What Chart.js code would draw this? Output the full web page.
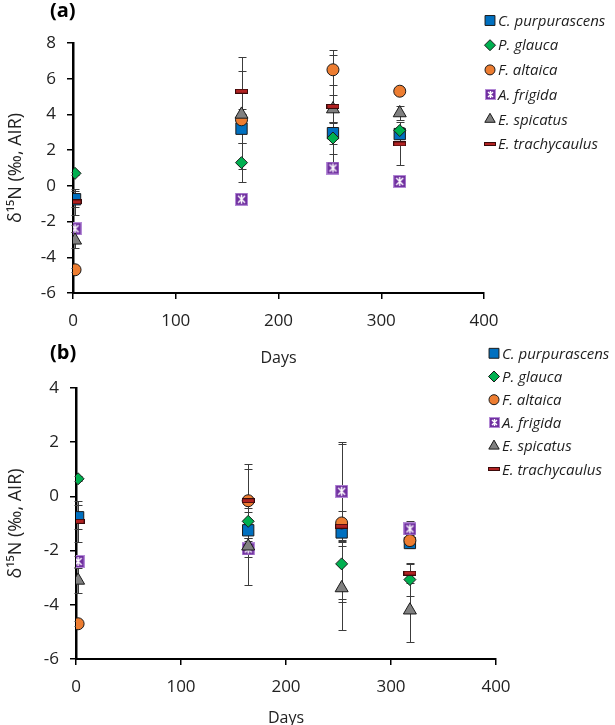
<!DOCTYPE html>
<html>
<head>
<meta charset="utf-8">
<script src="https://cdn.jsdelivr.net/npm/chart.js@4.4.1/dist/chart.umd.min.js"></script>
<style>
  html, body { margin: 0; padding: 0; background: #fff; }
  body { width: 615px; height: 725px; position: relative; overflow: hidden; }
  canvas { position: absolute; left: 0; }
  .tag { position: absolute; left: 50px; font: bold 20px "Open Sans", sans-serif; color: #000; }
</style>
</head>
<body>
<canvas id="chartA" width="615" height="372" style="top:0"></canvas>
<canvas id="chartB" width="615" height="392" style="top:340px"></canvas>
<div class="tag" style="top:-4px">(a)</div>
<div class="tag" style="top:338px">(b)</div>
<script>
// sampling days
const days = [2, 164, 253, 318];

const species = ['C. purpurascens', 'P. glauca', 'F. altaica', 'A. frigida', 'E. spicatus', 'E. trachycaulus'];

// panel (a) values and error half-widths
const purpA = [-0.75, 3.2, 2.95, 2.9];
const purpAErr = [0.45, 0.8, 0.6, 0.3];
const glaucaA = [0.7, 1.3, 2.68, 3.1];
const glaucaAErr = [0.1, 1.1, 0.92, 0.2];
const altaicaA = [-4.7, 3.7, 6.5, 5.3];
const altaicaAErr = [0.1, 2.75, 0.85, 0.15];
const frigidaA = [-2.4, -0.75, 1.0, 0.25];
const frigidaAErr = [0.2, 0.15, 0.15, 0.1];
const spicatusA = [-3.05, 4.0, 4.3, 4.08];
const spicatusAErr = [0.45, 0.3, 0.8, 0.37];
const trachyA = [-0.9, 5.3, 4.45, 2.35];
const trachyAErr = [0.75, 1.9, 3.15, 1.2];

// panel (b) values and error half-widths
const purpB = [-0.77, -1.25, -1.33, -1.72];
const purpBErr = [0.45, 0.3, 0.35, 0.2];
const glaucaB = [0.65, -0.92, -2.49, -3.07];
const glaucaBErr = [0.1, 0.35, 1.3, 0.62];
const altaicaB = [-4.7, -0.16, -0.98, -1.63];
const altaicaBErr = [0.1, 1.37, 2.9, 0.2];
const frigidaB = [-2.4, -1.94, 0.19, -1.2];
const frigidaBErr = [0.2, 0.3, 1.8, 0.3];
const spicatusB = [-3.1, -1.84, -3.38, -4.2];
const spicatusBErr = [0.45, 1.42, 1.55, 1.18];
const trachyB = [-0.92, -0.16, -1.1, -2.83];
const trachyBErr = [0.75, 1.17, 0.55, 0.35];

const FONT = '"Open Sans", "DejaVu Sans", sans-serif';

function frigidaIcon(sz) {
    const c = document.createElement('canvas');
    c.width = c.height = sz;
    const g = c.getContext('2d');
    g.fillStyle = '#7030A0';
    g.fillRect(0, 0, sz, sz);
    g.strokeStyle = '#b48ad6';
    g.lineWidth = 1;
    g.strokeRect(0.5, 0.5, sz - 1, sz - 1);
    g.strokeStyle = '#fff';
    g.lineWidth = 1.4;
    g.beginPath();
    g.moveTo(3, 3); g.lineTo(sz - 3, sz - 3);
    g.moveTo(sz - 3, 3); g.lineTo(3, sz - 3);
    g.moveTo(sz / 2, 2); g.lineTo(sz / 2, sz - 2);
    g.stroke();
    return c;
}

function dashIcon(w, h) {
    const c = document.createElement('canvas');
    c.width = w; c.height = h;
    const g = c.getContext('2d');
    g.fillStyle = '#3a0a0a';
    g.fillRect(0, 0, w, h);
    g.fillStyle = '#B22222';
    g.fillRect(1, 1, w - 2, h - 2);
    return c;
}

const markers = [
    { pointStyle: 'rect', pointRadius: 8, legendRadius: 7, color: '#0070C0' },
    { pointStyle: 'rectRot', pointRadius: 6, legendRadius: 5.5, color: '#00B050' },
    { pointStyle: 'circle', pointRadius: 6, legendRadius: 5, color: '#ED7D31' },
    { pointStyle: frigidaIcon(13), legendIcon: frigidaIcon(11), pointRadius: 7, color: '#7030A0' },
    { pointStyle: 'triangle', pointRadius: 7.5, legendRadius: 6, color: '#808080' },
    { pointStyle: dashIcon(13, 5), legendIcon: dashIcon(12, 4), pointRadius: 7, color: '#B22222' }
];

const errorBars = {
    id: 'errorBars',
    beforeDatasetsDraw(chart, args, opts) {
        const { ctx, scales: { x, y } } = chart;
        ctx.save();
        ctx.strokeStyle = '#3c3c3c';
        ctx.lineWidth = 1;
        chart.data.datasets.forEach((ds, k) => {
            const errs = opts.errors[k];
            ds.data.forEach((p, i) => {
                const e = errs[i];
                if (!e) {
                    return;
                }
                const px = Math.round(x.getPixelForValue(p.x)) + 0.5;
                const top = Math.round(y.getPixelForValue(p.y + e)) + 0.5;
                const bot = Math.round(y.getPixelForValue(p.y - e)) + 0.5;
                ctx.beginPath();
                ctx.moveTo(px, top); ctx.lineTo(px, bot);
                ctx.moveTo(px - 4, top); ctx.lineTo(px + 4, top);
                ctx.moveTo(px - 4, bot); ctx.lineTo(px + 4, bot);
                ctx.stroke();
            });
        });
        ctx.restore();
    }
};

const sideLegend = {
    id: 'sideLegend',
    afterDraw(chart, args, opts) {
        const ctx = chart.ctx;
        ctx.save();
        ctx.font = 'italic 15px ' + FONT;
        ctx.textBaseline = 'middle';
        chart.data.datasets.forEach((ds, i) => {
            const y = opts.top + i * opts.rowGap;
            const m = markers[i];
            if (m.legendIcon) {
                const ic = m.legendIcon;
                ctx.drawImage(ic, Math.round(opts.markerX - ic.width / 2), Math.round(y - ic.height / 2));
            } else {
                ctx.fillStyle = m.color;
                ctx.strokeStyle = '#1a1a1a';
                ctx.lineWidth = 1;
                Chart.helpers.drawPoint(ctx, {
                    pointStyle: m.pointStyle,
                    radius: m.legendRadius,
                    rotation: 0,
                    borderWidth: 1
                }, opts.markerX, y);
            }
            ctx.fillStyle = '#1e1e1e';
            ctx.fillText(ds.label, opts.textX, y + 1);
        });
        ctx.restore();
    }
};

function makeDatasets(series) {
    return series.map((vals, i) => ({
        label: species[i],
        data: days.map((d, j) => ({ x: d, y: vals[j] })),
        showLine: false,
        order: series.length - i,
        pointStyle: markers[i].pointStyle,
        pointRadius: markers[i].pointRadius,
        pointBackgroundColor: markers[i].color,
        pointBorderColor: '#1a1a1a',
        pointBorderWidth: 1
    }));
}

function buildChart(id, series, errors, layout) {
    return new Chart(document.getElementById(id), {
        type: 'scatter',
        data: { datasets: makeDatasets(series) },
        plugins: [errorBars, sideLegend],
        options: {
            responsive: false,
            animation: false,
            events: [],
            layout: { padding: { top: layout.top, right: layout.right, left: 0, bottom: 0 } },
            plugins: {
                legend: { display: false },
                tooltip: { enabled: false },
                errorBars: { errors },
                sideLegend: layout.legend
            },
            scales: {
                x: {
                    type: 'linear',
                    min: 0,
                    max: 400,
                    ticks: { stepSize: 100, color: '#222', font: { size: 17, family: FONT }, padding: layout.xTickPad },
                    grid: { drawOnChartArea: false, drawTicks: true, tickLength: 6, color: '#000', lineWidth: 1.5 },
                    border: { color: '#000', width: 2 },
                    title: { display: true, text: 'Days', color: '#222', font: { size: 16, family: FONT }, padding: { top: 4, bottom: 4 } },
                    afterFit: (s) => { s.height = layout.xHeight; }
                },
                y: {
                    min: layout.yMin,
                    max: layout.yMax,
                    ticks: { stepSize: 2, color: '#222', font: { size: 17, family: FONT }, padding: 11 },
                    grid: { drawOnChartArea: false, drawTicks: true, tickLength: 6, color: '#000', lineWidth: 1.5 },
                    border: { color: '#000', width: 2.5 },
                    title: { display: true, text: 'δ¹⁵N (‰, AIR)', color: '#222', font: { size: 18, family: FONT }, padding: { top: 5, bottom: 0 } },
                    afterFit: (s) => { s.width = layout.yWidth; }
                }
            }
        }
    });
}

buildChart('chartA',
    [purpA, glaucaA, altaicaA, frigidaA, spicatusA, trachyA],
    [purpAErr, glaucaAErr, altaicaAErr, frigidaAErr, spicatusAErr, trachyAErr],
    {
        top: 43, right: 131, xHeight: 79, yWidth: 73, yMin: -6, yMax: 8, xTickPad: 12,
        legend: { markerX: 490, textX: 498, top: 20.5, rowGap: 24.7 }
    });

buildChart('chartB',
    [purpB, glaucaB, altaicaB, frigidaB, spicatusB, trachyB],
    [purpBErr, glaucaBErr, altaicaBErr, frigidaBErr, spicatusBErr, trachyBErr],
    {
        top: 48, right: 119, xHeight: 73, yWidth: 76, yMin: -6, yMax: 4, xTickPad: 12,
        legend: { markerX: 494, textX: 502, top: 13.3, rowGap: 23.2 }
    });
</script>
</body>
</html>
